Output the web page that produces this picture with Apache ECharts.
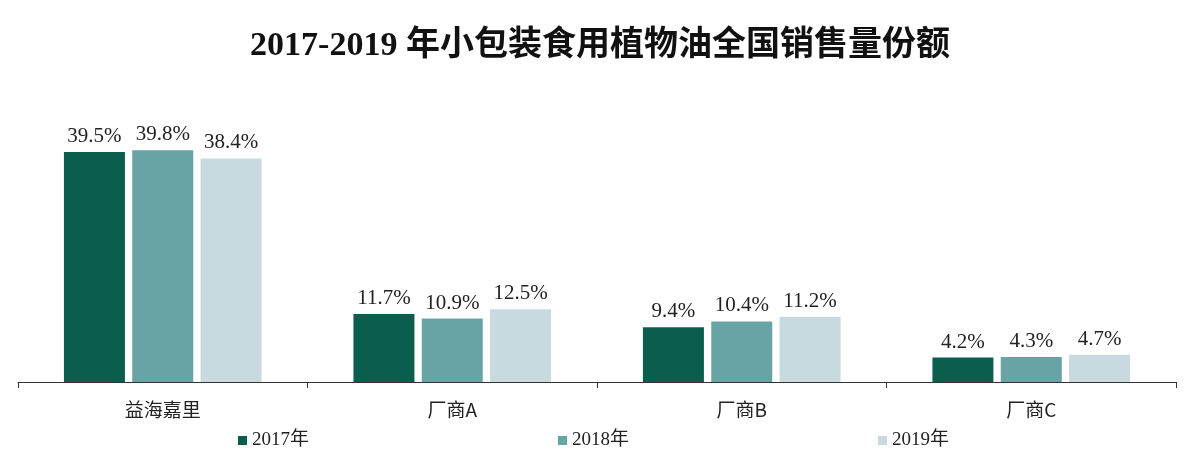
<!DOCTYPE html>
<html><head><meta charset="utf-8">
<script src="https://cdn.jsdelivr.net/npm/echarts@6/dist/echarts.min.js"></script>
<style>html,body{margin:0;padding:0;background:#fff}#c{width:1200px;height:460px}</style>
</head><body><div id="c"></div>
<script>
const title = '2017-2019 年小包装食用植物油全国销售量份额';
const categories = ['益海嘉里', '厂商A', '厂商B', '厂商C'];
const seriesNames = ['2017年', '2018年', '2019年'];
const v2017 = [39.5, 11.7, 9.4, 4.2];
const v2018 = [39.8, 10.9, 10.4, 4.3];
const v2019 = [38.4, 12.5, 11.2, 4.7];
const colors = ['#0b5e4e', '#68a3a6', '#c8dadf'];

const chart = echarts.init(document.getElementById('c'));
const mk = (name, data, color) => ({
  name, type: 'bar', data, barWidth: 61, barGap: '12%',
  itemStyle: { color },
  label: { show: true, position: 'top', distance: 5, formatter: p => p.value.toFixed(1) + '%',
    fontFamily: 'Liberation Serif', fontSize: 21, color: '#222' }
});
chart.setOption({
  animation: false,
  title: { text: title, left: 'center', top: 24,
    textStyle: { fontFamily: 'Liberation Serif, Noto Sans CJK SC', fontWeight: 'bold', fontSize: 34, color: '#111' } },
  legend: { data: seriesNames, left: 233, top: 426, itemWidth: 9, itemHeight: 9, itemGap: 249, icon: 'rect',
    textStyle: { fontFamily: 'Liberation Serif, Noto Sans CJK SC', fontSize: 19, color: '#222' } },
  grid: { left: 18, right: 24, top: 120, bottom: 78 },
  xAxis: { type: 'category', data: categories,
    axisLine: { lineStyle: { color: '#333', width: 1 } },
    axisTick: { show: true, length: 6, lineStyle: { color: '#333' } },
    axisLabel: { margin: 18, fontFamily: 'Noto Sans CJK SC', fontSize: 19, color: '#222' } },
  yAxis: { type: 'value', min: 0, max: 45, show: false, splitLine: { show: false } },
  series: [mk(seriesNames[0], v2017, colors[0]), mk(seriesNames[1], v2018, colors[1]), mk(seriesNames[2], v2019, colors[2])]
});
</script></body></html>
